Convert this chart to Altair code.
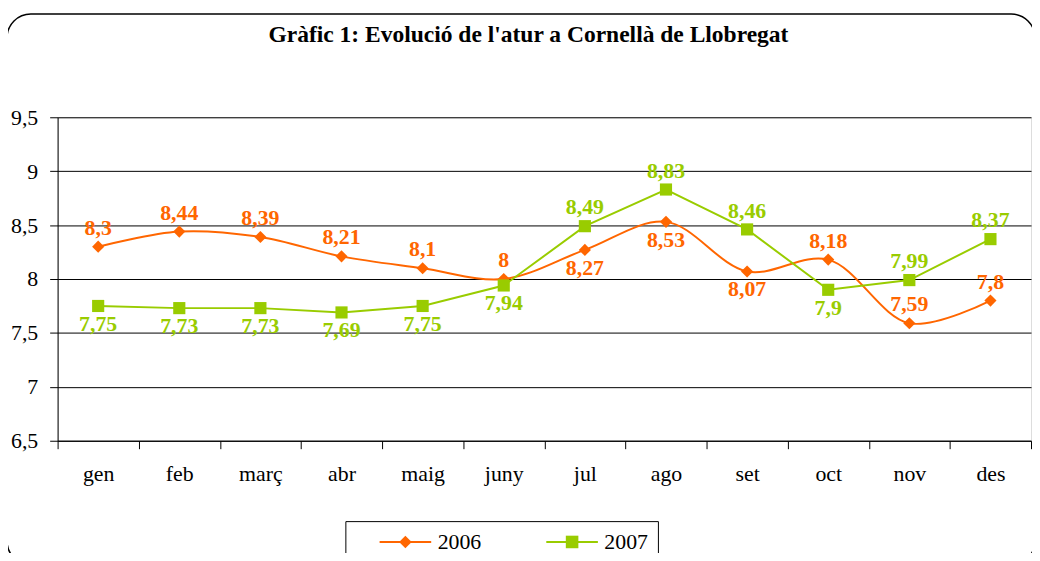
import altair as alt
import pandas as pd

# ---- data ----
months = ["gen", "feb", "març", "abr", "maig", "juny", "jul", "ago", "set", "oct", "nov", "des"]
atur_2006 = [8.3, 8.44, 8.39, 8.21, 8.1, 8.0, 8.27, 8.53, 8.07, 8.18, 7.59, 7.8]
atur_2007 = [7.75, 7.73, 7.73, 7.69, 7.75, 7.94, 8.49, 8.83, 8.46, 7.9, 7.99, 8.37]
series_names = ["2006", "2007"]
series_colors = ["#FF6600", "#99CC00"]
series_shapes = ["diamond", "square"]
y_ticks = [6.5, 7, 7.5, 8, 8.5, 9, 9.5]
# where each data label sits relative to its point
label_side_2006 = ["above", "above", "above", "above", "above", "above",
                   "below", "below", "below", "above", "above", "above"]
label_side_2007 = ["below", "below", "below", "below", "below", "below",
                   "above", "above", "above", "below", "above", "above"]
title_text = "Gràfic 1: Evolució de l'atur a Cornellà de Llobregat"

rows = []
for m, v, s in zip(months, atur_2006, label_side_2006):
    rows.append({"month": m, "value": v, "series": "2006", "side": s})
for m, v, s in zip(months, atur_2007, label_side_2007):
    rows.append({"month": m, "value": v, "series": "2007", "side": s})
df = pd.DataFrame(rows)

FONT = "Liberation Serif"

color_scale = alt.Scale(domain=series_names, range=series_colors)

x_enc = alt.X(
    "month:N", sort=months, bandPosition=0.5,
    scale=alt.Scale(type="band", domain=months, paddingInner=0, paddingOuter=0),
    axis=alt.Axis(title=None, labelAngle=0, tickBand="extent", tickSize=8,
                  labelPadding=15, grid=False, domainColor="black",
                  tickColor="black", labelFont=FONT, labelFontSize=22,
                  labelColor="black"),
)
y_enc = alt.Y(
    "value:Q",
    scale=alt.Scale(domain=[6.5, 9.5], nice=False, zero=False),
    axis=alt.Axis(title=None, values=y_ticks, grid=True, gridColor="black",
                  gridWidth=1, tickSize=8, labelPadding=12,
                  labelExpr="replace(toString(datum.value), '.', ',')",
                  domainColor="black", tickColor="black", labelFont=FONT,
                  labelFontSize=22, labelColor="black"),
)

base = alt.Chart(df).encode(x=x_enc, y=y_enc)

frame = alt.Chart(pd.DataFrame({"k": [0]})).mark_rect(
    filled=False, stroke="black", strokeWidth=1.5, cornerRadius=24
).encode(x=alt.value(-51), x2=alt.value(985), y=alt.value(-104), y2=alt.value(451))

LEG_X, LEG_Y = 290, 407
# legend for the lines (draws the box and the labels)
legend_lines = alt.Legend(
    title=None, orient="none", legendX=LEG_X, legendY=LEG_Y, direction="horizontal",
    strokeColor="black", fillColor="white", padding=10, symbolOffset=39.5,
    labelOffset=21.5, columnPadding=41, symbolSize=169, symbolStrokeWidth=2,
    symbolType="M-4,0L4,0", labelFont=FONT, labelFontSize=22, labelColor="black",
)
# legend for the markers, laid over the line legend with the same layout
legend_marks = alt.Legend(
    title=None, orient="none", legendX=LEG_X, legendY=LEG_Y, direction="horizontal",
    padding=10, symbolOffset=39.5, labelOffset=21.5, columnPadding=41,
    symbolSize=160, symbolStrokeWidth=0, labelFont=FONT, labelFontSize=22,
    labelColor="black", labelOpacity=0,
)

line_stroke = alt.Stroke("series_l:N", scale=alt.Scale(range=series_colors), legend=legend_lines)

line06 = base.transform_filter("datum.series == '2006'").transform_calculate(
    series_l="datum.series").mark_line(
    interpolate="catmull-rom", strokeWidth=2).encode(stroke=line_stroke)

line07 = base.transform_filter("datum.series == '2007'").transform_calculate(
    series_l="datum.series").mark_line(strokeWidth=2).encode(stroke=line_stroke)

points = base.mark_point(filled=True, opacity=1, size=150).encode(
    fill=alt.Fill("series:N", scale=alt.Scale(domain=series_names, range=series_colors),
                  legend=legend_marks),
    shape=alt.Shape("series:N", scale=alt.Scale(domain=series_names, range=series_shapes),
                    legend=legend_marks),
)

text_common = dict(font=FONT, fontSize=22, fontWeight="bold", baseline="middle", align="center")
labels_above = base.transform_filter("datum.side == 'above'").transform_calculate(
    lbl="replace(toString(datum.value), '.', ',')"
).mark_text(dy=-19, **text_common).encode(
    text="lbl:N", color=alt.Color("series:N", scale=color_scale, legend=None))
labels_below = base.transform_filter("datum.side == 'below'").transform_calculate(
    lbl="replace(toString(datum.value), '.', ',')"
).mark_text(dy=18, **text_common).encode(
    text="lbl:N", color=alt.Color("series:N", scale=color_scale, legend=None))

chart = alt.layer(
    frame, line06, line07, points, labels_above, labels_below
).properties(
    width=981, height=326,
    autosize=alt.AutoSizeParams(type="none"),
    padding={"left": 50, "top": 108, "right": 1, "bottom": 111},
    title=alt.TitleParams(title_text, font=FONT, fontSize=23.7, fontWeight="bold",
                          color="black", anchor="middle", frame="group", dx=-16, offset=-34),
).configure_view(stroke="black", strokeWidth=1).configure(
    background="white", font=FONT
).configure_axis(labelFont=FONT).configure_legend(labelFont=FONT)

chart.save("out.html", embed_options={"renderer": "svg", "actions": False})
